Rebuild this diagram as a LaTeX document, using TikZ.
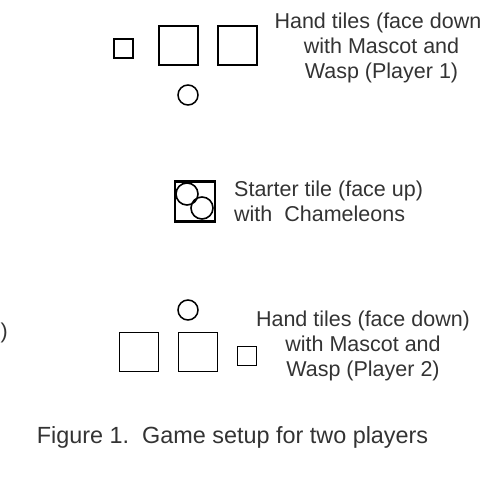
\documentclass[tikz,border=0pt]{standalone}
\usepackage{fontspec}
\setmainfont{Liberation Sans}
\usepackage{tikz}
\usetikzlibrary{positioning}
\definecolor{inkgray}{HTML}{333333}

\begin{document}
\begin{tikzpicture}[x=1pt, y=-1pt,
        every node/.style={text=inkgray},
        label/.style={font=\fontsize{21.5}{25}\selectfont, align=center, inner sep=0pt},
        bigtile/.style={draw=black, line width=1.7pt, minimum size=39pt, inner sep=0pt},
        smalltile/.style={draw=black, line width=1.7pt, minimum size=19pt, inner sep=0pt},
        token/.style={draw=black, circle, line width=1.5pt, minimum size=20pt, inner sep=0pt},
        starter/.style={draw=black, line width=2.6pt, minimum size=40pt, inner sep=0pt},
        chameleon/.style={draw=black, circle, line width=1.6pt, minimum size=22pt, inner sep=0pt}
      ]
        \useasboundingbox (0,0) rectangle (480,480);
        % player 1
        \node[smalltile] (p1small) at (123.5,48.5) {};
        \node[bigtile] (p1tileA) at (178.5,45.5) {};
        \node[bigtile] (p1tileB) at (237.5,45.5) {};
        \node[token] (p1mascot) at (188,95) {};
        \node[label] (p1text) at (381.5,48) {Hand tiles (face down)\\with Mascot and\\Wasp (Player 1)};
        % starter tile
        \node[starter] (start) at (195,201.5) {};
        \node[chameleon] (chamA) at (187,194) {};
        \node[chameleon] (chamB) at (202,208) {};
        \node[label, align=left, anchor=west] (starttext) at (234,201) {Starter tile (face up)\\with\ \ Chameleons};
        % player 2
        \node[token] (p2mascot) at (188,310) {};
        \node[bigtile] (p2tileA) at (139,352) {};
        \node[bigtile] (p2tileB) at (198,352) {};
        \node[smalltile] (p2small) at (247,356) {};
        \node[label] (p2text) at (363,346) {Hand tiles (face down)\\with Mascot and\\Wasp (Player 2)};
        % cut-off text at the left edge
        \node[label, anchor=east] (edge) at (8,333) {n)};
        % caption
        \node[font=\fontsize{23.4}{27}\selectfont, inner sep=0pt] (caption) at (232.5,437) {Figure 1.\ \ Game setup for two players};
      \end{tikzpicture}
\end{document}
